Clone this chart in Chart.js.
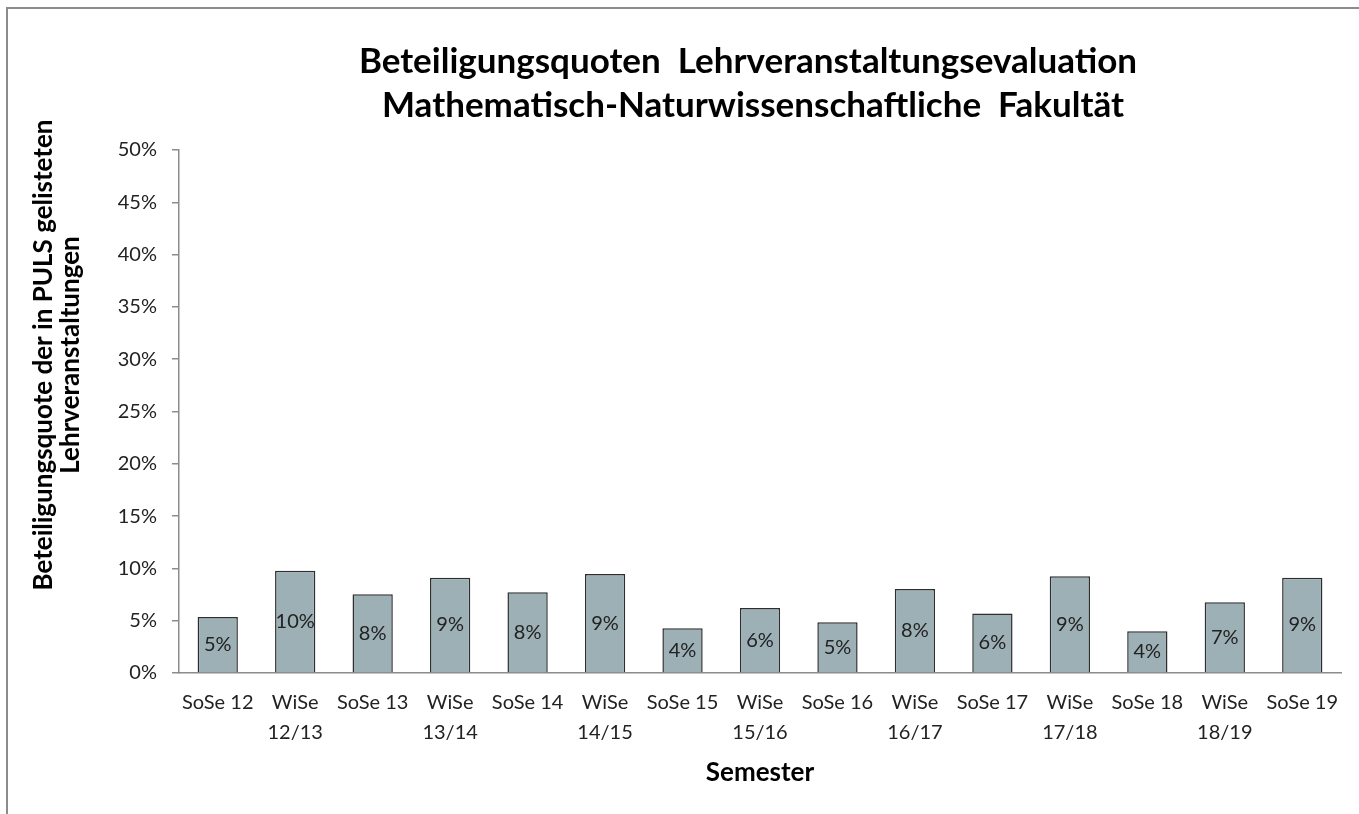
<!DOCTYPE html>
<html>
<head>
<meta charset="utf-8">
<script src="https://cdn.jsdelivr.net/npm/chart.js@4.4.1/dist/chart.umd.min.js"></script>
<style>
  html, body { margin: 0; padding: 0; background: #fff; }
  #wrap { position: relative; width: 1359px; height: 814px; }
  #frame { position: absolute; left: 6px; top: 7px; width: 1360px; height: 810px; border: 2px solid #8c8c8c; box-sizing: border-box; pointer-events: none; }
</style>
</head>
<body>
<div id="wrap">
  <canvas id="chart" width="1359" height="814"></canvas>
  <div id="frame"></div>
</div>
<script>
const semesters = [
  ["SoSe 12"], ["WiSe", "12/13"], ["SoSe 13"], ["WiSe", "13/14"], ["SoSe 14"],
  ["WiSe", "14/15"], ["SoSe 15"], ["WiSe", "15/16"], ["SoSe 16"], ["WiSe", "16/17"],
  ["SoSe 17"], ["WiSe", "17/18"], ["SoSe 18"], ["WiSe", "18/19"], ["SoSe 19"]
];
// Beteiligungsquote in %
const quoten = [5.35, 9.78, 7.52, 9.11, 7.71, 9.46, 4.27, 6.21, 4.85, 8.03, 5.7, 9.24, 4.0, 6.76, 9.11];
const titleLines = ["Beteiligungsquoten  Lehrveranstaltungsevaluation", "Mathematisch-Naturwissenschaftliche  Fakultät"];
const yTitleLines = ["Beteiligungsquote der in PULS gelisteten", "Lehrveranstaltungen"];
const xTitle = "Semester";

const FONT = "Lato, 'Open Sans', sans-serif";

const textPlugin = {
  id: "texts",
  afterDatasetsDraw(chart) {
    const ctx = chart.ctx;
    const meta = chart.getDatasetMeta(0);
    ctx.save();
    ctx.fillStyle = "#222";
    ctx.font = "20px " + FONT;
    ctx.textAlign = "center";
    ctx.textBaseline = "middle";
    meta.data.forEach((bar, i) => {
      ctx.fillText(Math.round(quoten[i]) + "%", bar.x, (bar.y + bar.base) / 2);
    });
    ctx.restore();
  },
  afterDraw(chart) {
    const ctx = chart.ctx;
    ctx.save();
    ctx.fillStyle = "#000";
    ctx.textAlign = "center";
    ctx.textBaseline = "middle";
    ctx.font = "bold 35px " + FONT;
    ctx.fillText(titleLines[0], 748, 62);
    ctx.fillText(titleLines[1], 753, 106);
    ctx.font = "bold 26px " + FONT;
    ctx.fillText(xTitle, 760, 773);
    ctx.translate(57, 355);
    ctx.rotate(-Math.PI / 2);
    ctx.fillText(yTitleLines[0], 0, -13);
    ctx.fillText(yTitleLines[1], 0, 14);
    ctx.restore();
  }
};

new Chart(document.getElementById("chart").getContext("2d"), {
  type: "bar",
  data: {
    labels: semesters,
    datasets: [{
      data: quoten,
      backgroundColor: "#9cb0b6",
      borderColor: "#2e2e2e",
      borderWidth: 1.5,
      barPercentage: 0.52,
      categoryPercentage: 1
    }]
  },
  options: {
    responsive: false,
    animation: false,
    layout: { padding: { top: 150, right: 18, left: 0, bottom: 0 } },
    plugins: { legend: { display: false }, title: { display: false }, tooltip: { enabled: false } },
    scales: {
      x: {
        afterFit(scale) { scale.height = 141; },
        grid: { display: false },
        border: { display: true, color: "#8c8c8c", width: 1.5 },
        ticks: { color: "#222", font: { size: 20, family: FONT, lineHeight: 1.5 }, padding: 7, maxRotation: 0, autoSkip: false }
      },
      y: {
        min: 0, max: 50,
        afterFit(scale) { scale.width = 179; },
        grid: { drawOnChartArea: false, drawTicks: true, tickLength: 7, color: "#8c8c8c", lineWidth: 1.5 },
        border: { display: true, color: "#8c8c8c", width: 1.5 },
        ticks: { stepSize: 5, color: "#222", font: { size: 20, family: FONT }, padding: 15, callback: v => v + "%" }
      }
    }
  },
  plugins: [textPlugin]
});
</script>
</body>
</html>
